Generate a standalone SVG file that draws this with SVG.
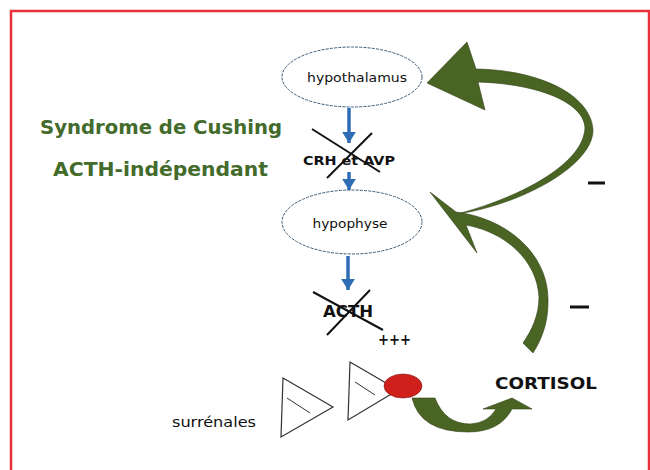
<svg xmlns="http://www.w3.org/2000/svg" width="650" height="470" viewBox="0 0 650 470">
<defs>
<style>
.node{fill:#fff;stroke:#3b5a78;stroke-width:1;stroke-dasharray:3 1.2}
.lbl{font-family:"DejaVu Sans",sans-serif;fill:#111}
.title{font-family:"DejaVu Sans",sans-serif;font-weight:bold;fill:#436b2c;font-size:19px}
.blue{stroke:#2e6db4;stroke-width:3.5;fill:none;marker-end:url(#ah)}
.cross{stroke:#111;stroke-width:2;fill:none}
.green{fill:#4a6424;stroke:#2f3f16;stroke-width:0.6}
.tri{fill:#fff;stroke:#333;stroke-width:1.2}
</style>
<marker id="ah" markerWidth="4" markerHeight="4" refX="3.2" refY="2" orient="auto" markerUnits="strokeWidth">
<path d="M0,0 L3.2,2 L0,4 Z" fill="#2e6db4"/>
</marker>
</defs>
<rect width="650" height="470" fill="#fff"/>
<path d="M11,470 L11,11 L649,11 L649,470" fill="none" stroke="#e8303a" stroke-width="2.5"/>

<g id="title">
<text class="title" x="40" y="134" textLength="242" lengthAdjust="spacingAndGlyphs">Syndrome de Cushing</text>
<text class="title" x="53" y="176" textLength="215" lengthAdjust="spacingAndGlyphs">ACTH-indépendant</text>
</g>

<g id="connectors">
<line class="blue" x1="349" y1="108" x2="349" y2="143"/>
<line class="blue" x1="349" y1="172" x2="349" y2="190"/>
<line class="blue" x1="348" y1="256" x2="348" y2="290"/>
<path id="fb-hypothalamus" class="green" d="M427,83 L467,42 L476,69 C540,70 591,95 593,130 C593,166 520,205 457,214 C515,199 583,166 585,128 C584,103 540,84 478,82 L485,110 Z"/>
<path id="fb-hypophyse" class="green" d="M430,192 L456,212 C505,218 547,252 548,298 C549,324 540,342 533,353 L523,343 C532,330 539,315 539,297 C537,260 505,232 466,225 L477,253 Z"/>
<path id="secretion" class="green" d="M412,398 L435,398 Q445,424 470,424 Q488,423 496,409 L483,409 L512,398 L532,409 L512,409 Q500,432 468,432 Q420,432 412,398 Z"/>
<line x1="588" y1="183" x2="605" y2="183" stroke="#111" stroke-width="3"/>
<line x1="570" y1="307" x2="589" y2="307" stroke="#111" stroke-width="3"/>
</g>

<g id="hypothalamus">
<ellipse class="node" cx="352" cy="77" rx="70" ry="30"/>
<text class="lbl" x="357" y="82" font-size="13" text-anchor="middle" textLength="100" lengthAdjust="spacingAndGlyphs">hypothalamus</text>
</g>

<g id="crh-avp">
<text class="lbl" x="303" y="165" font-size="13" font-weight="bold" textLength="92" lengthAdjust="spacingAndGlyphs">CRH et AVP</text>
<line class="cross" x1="312" y1="129" x2="380" y2="172"/>
<line class="cross" x1="372" y1="133" x2="327" y2="178"/>
</g>

<g id="hypophyse">
<ellipse class="node" cx="352" cy="222" rx="70" ry="32"/>
<text class="lbl" x="350" y="228" font-size="13" text-anchor="middle" textLength="75" lengthAdjust="spacingAndGlyphs">hypophyse</text>
</g>

<g id="acth">
<text class="lbl" x="323" y="317" font-size="15" font-weight="bold" textLength="50" lengthAdjust="spacingAndGlyphs">ACTH</text>
<line class="cross" x1="313" y1="292" x2="383" y2="330"/>
<line class="cross" x1="370" y1="290" x2="327" y2="335"/>
<text class="lbl" x="378" y="345" font-size="16" font-weight="bold" textLength="33" lengthAdjust="spacingAndGlyphs">+++</text>
</g>

<g id="surrenales">
<polygon class="tri" points="283,378 281,437 333,407"/>
<line x1="287" y1="398" x2="310" y2="413" stroke="#333" stroke-width="1"/>
<polygon class="tri" points="350,362 348,420 398,390"/>
<line x1="355" y1="382" x2="375" y2="395" stroke="#333" stroke-width="1"/>
<ellipse cx="403" cy="386" rx="19" ry="12" fill="#d0201c" stroke="#7a1a10" stroke-width="0.6"/>
<text class="lbl" x="172" y="427" font-size="14" textLength="84" lengthAdjust="spacingAndGlyphs">surrénales</text>
</g>

<g id="cortisol">
<text class="lbl" x="495" y="389" font-size="15" font-weight="bold" textLength="102" lengthAdjust="spacingAndGlyphs">CORTISOL</text>
</g>
</svg>
